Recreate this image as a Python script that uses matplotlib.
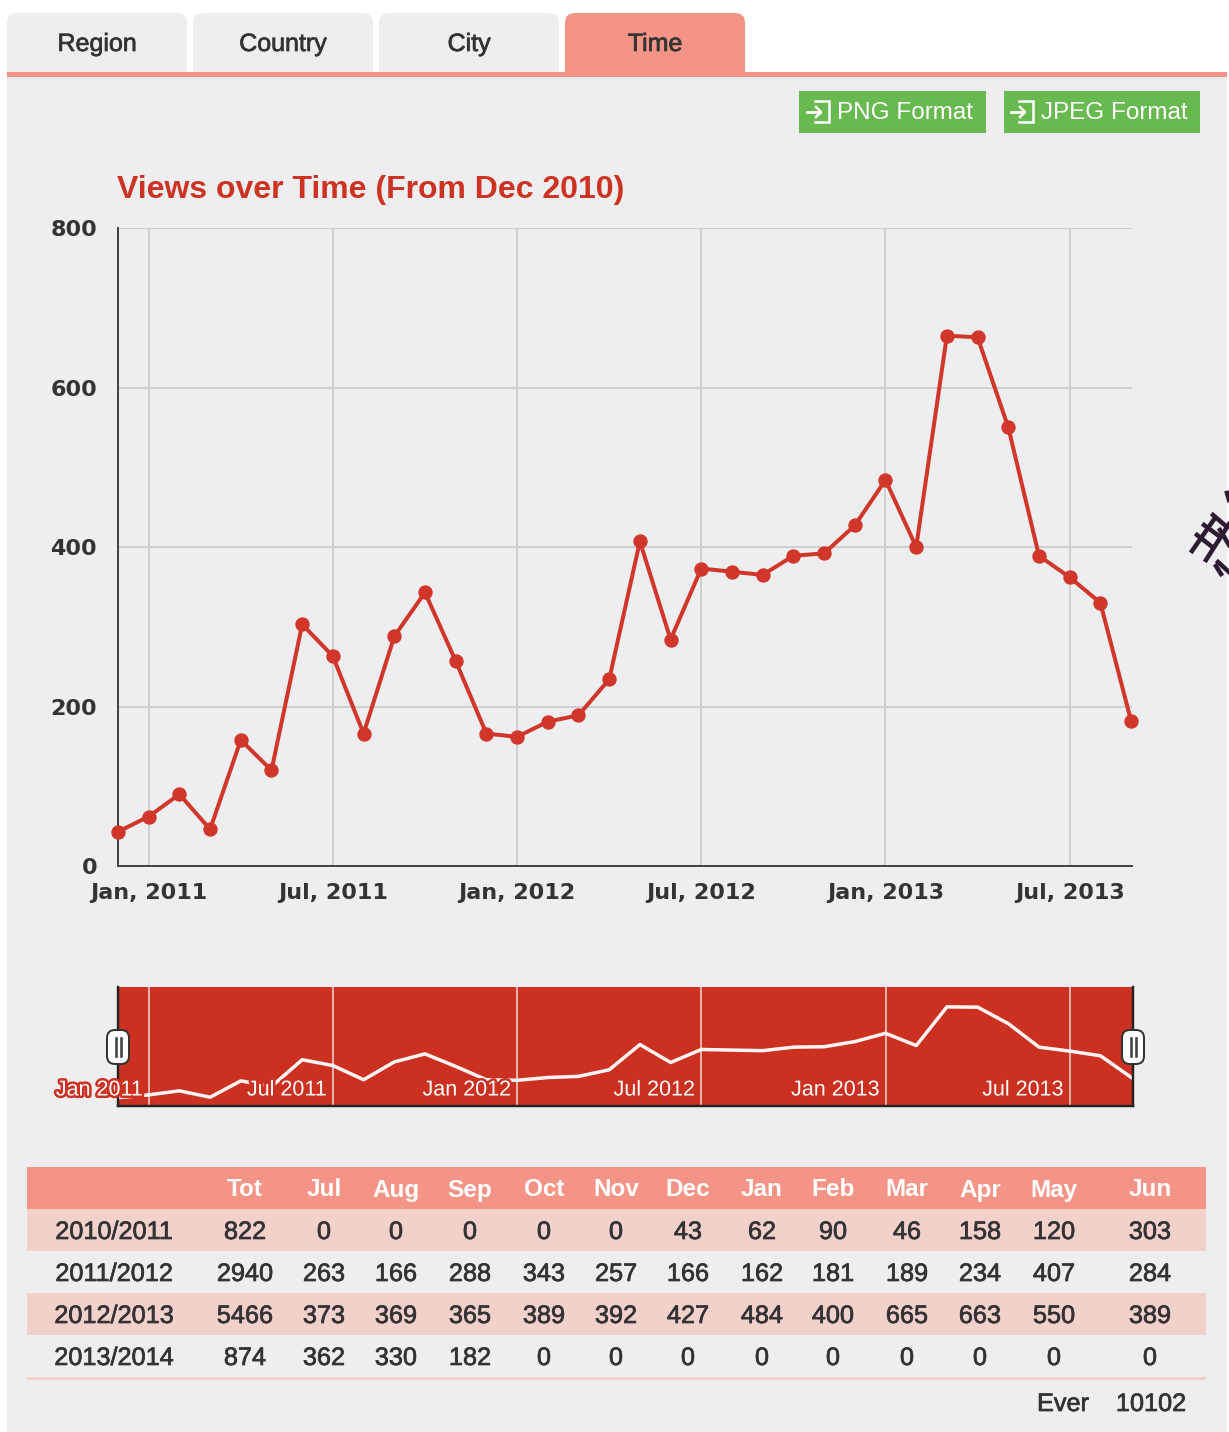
import matplotlib
matplotlib.use('Agg')
import matplotlib.pyplot as plt
import matplotlib.patheffects as pe
from matplotlib.patches import FancyBboxPatch, Rectangle
import numpy as np

W, H = 1229, 1432

views = [43, 62, 90, 46, 158, 120, 303, 263, 166, 288, 343, 257, 166, 162, 181, 189, 234,
         407, 284, 373, 369, 365, 389, 392, 427, 484, 400, 665, 663, 550, 389, 362, 330, 182]
month_idx = np.arange(len(views))  # Dec 2010 is 0, the months are evenly spaced on this axis
tick_idx = [1, 7, 13, 19, 25, 31]
tick_labels = ['Jan, 2011', 'Jul, 2011', 'Jan, 2012', 'Jul, 2012', 'Jan, 2013', 'Jul, 2013']
y_ticks = [0, 200, 400, 600, 800]

tab_names = ['Region', 'Country', 'City', 'Time']
table_head = ['Tot', 'Jul', 'Aug', 'Sep', 'Oct', 'Nov', 'Dec', 'Jan', 'Feb', 'Mar', 'Apr', 'May', 'Jun']
row_names = ['2010/2011', '2011/2012', '2012/2013', '2013/2014']
row_2010 = [822, 0, 0, 0, 0, 0, 43, 62, 90, 46, 158, 120, 303]
row_2011 = [2940, 263, 166, 288, 343, 257, 166, 162, 181, 189, 234, 407, 284]
row_2012 = [5466, 373, 369, 365, 389, 392, 427, 484, 400, 665, 663, 550, 389]
row_2013 = [874, 362, 330, 182, 0, 0, 0, 0, 0, 0, 0, 0, 0]
ever_total = 10102

PAGE = '#EEEEF0'
SALMON = '#F49486'
RED = '#D0372A'
DARKRED = '#CB3020'
TXT = '#333333'
SANS = 'Liberation Sans'

px = 72 / 100  # pixels to points at dpi 100
heavy = [pe.withStroke(linewidth=0.5, foreground=TXT)]


def pixel_axes(zorder):
    a = fig.add_axes([0, 0, 1, 1], zorder=zorder)
    a.set_xlim(0, W)
    a.set_ylim(H, 0)
    a.axis('off')
    return a


def place(x0, y0, x1, y1):
    return [x0 / W, 1 - y1 / H, (x1 - x0) / W, (y1 - y0) / H]


fig = plt.figure(figsize=(W / 100, H / 100), dpi=100, facecolor='white')
bg = pixel_axes(0)
fg = pixel_axes(5)

# page panel and tabs
bg.add_patch(Rectangle((7, 75), 1220, H - 75, fc=PAGE, ec='none'))
for i, name in enumerate(tab_names):
    x0 = 7 + i * 186
    col = SALMON if name == 'Time' else PAGE
    bg.add_patch(FancyBboxPatch((x0 + 10, 23), 160, 70, boxstyle='round,pad=10,rounding_size=10',
                                fc=col, ec='none'))
    bg.add_patch(Rectangle((x0 - 1, 73), 182, 40, fc=PAGE, ec='none'))
    bg.text(x0 + 90, 44, name, ha='center', va='center', family=SANS, fontsize=18, color=TXT, path_effects=heavy)
bg.add_patch(Rectangle((0, 0), 7, H, fc='white', ec='none'))
bg.add_patch(Rectangle((1227, 0), 2, H, fc='white', ec='none'))
bg.add_patch(Rectangle((7, 72), 1220, 5, fc=SALMON, ec='none'))
bg.add_patch(Rectangle((565, 60), 180, 14, fc=SALMON, ec='none'))

# export buttons
for x0, x1, label, tx in [(799, 986, 'PNG Format', 837), (1004, 1200, 'JPEG Format', 1041)]:
    bg.add_patch(Rectangle((x0, 91), x1 - x0, 42, fc='#67B950', ec='none'))
    bg.text(tx, 113, label, ha='left', va='center', family=SANS, fontsize=17.5, color='white')
    ix = tx - 30
    bg.plot([ix + 8, ix + 22, ix + 22, ix + 8], [101, 101, 122, 122], color='white', lw=1.8, solid_joinstyle='miter')
    bg.plot([ix, ix + 13], [112, 112], color='white', lw=2)
    bg.plot([ix + 9, ix + 14, ix + 9], [107, 112, 117], color='white', lw=1.8)

bg.text(117, 190, 'Views over Time (From Dec 2010)', ha='left', va='center', family=SANS,
        fontweight='bold', fontsize=23, color='#CC3322')

# main chart
ax = fig.add_axes(place(118, 228, 1132, 866), zorder=1)
ax.patch.set_visible(False)
ax.plot(month_idx, views, color=RED, lw=4 * px, marker='o', ms=13 * px, mec=RED, clip_on=False, zorder=5)
ax.set_xlim(0, 33.03)
ax.set_ylim(0, 800)
ax.set_yticks(y_ticks)
ax.set_xticks(tick_idx)
ax.set_xticklabels(tick_labels)
ax.grid(True, color='#CCCCCC', lw=1.8 * px)
ax.set_axisbelow(True)
for s in ['top', 'right']:
    ax.spines[s].set_visible(False)
for s in ['left', 'bottom']:
    ax.spines[s].set_color('#444444')
    ax.spines[s].set_linewidth(2 * px)
ax.tick_params(length=0, labelcolor=TXT, labelsize=16)
ax.tick_params(axis='x', pad=12)
ax.tick_params(axis='y', pad=15)
for lab in ax.get_xticklabels() + ax.get_yticklabels():
    lab.set_fontweight('bold')

# overview strip
ov = fig.add_axes(place(118, 987, 1133, 1106), zorder=1)
ov.set_facecolor(DARKRED)
ov.plot(month_idx, views, color='white', lw=3.5 * px, alpha=0.95)
ov.set_xlim(0, 33.06)
ov.set_ylim(-14, 801)
ov.set_xticks(tick_idx)
ov.set_yticks([])
ov.set_xticklabels([])
ov.grid(True, axis='x', color='#E8E0DE', lw=1.5 * px)
ov.tick_params(length=0)
ov.spines['top'].set_visible(False)
for s in ['left', 'right', 'bottom']:
    ov.spines[s].set_color('#222222')
    ov.spines[s].set_linewidth(2.4 * px)
for d, lab in zip(tick_idx, tick_labels):
    ov.annotate(lab.replace(',', ''), (d, 0), xycoords=('data', 'axes fraction'), xytext=(-6 * px, 16 * px),
                textcoords='offset points', ha='right', va='center', family=SANS, fontsize=15.5, color='white',
                annotation_clip=False, zorder=6,
                path_effects=[pe.withStroke(linewidth=5 * px, foreground=DARKRED)])

# slider handles
for hx in [118, 1133]:
    fg.add_patch(FancyBboxPatch((hx - 7, 1034), 14, 26, boxstyle='round,pad=4,rounding_size=8',
                                fc='white', ec='#333333', lw=2 * px))
    fg.plot([hx - 2.5, hx - 2.5], [1038, 1056], color='#444444', lw=2.6 * px)
    fg.plot([hx + 2.5, hx + 2.5], [1038, 1056], color='#444444', lw=2.6 * px)

# stray scribble at the right edge
scribble = [((1192, 551), (1215, 518)), ((1206, 560), (1229, 524)), ((1197, 535), (1211, 546)),
            ((1204, 525), (1219, 536)), ((1213, 515), (1227, 527)), ((1218, 562), (1229, 572)),
            ((1227, 493), (1229, 500)), ((1220, 530), (1229, 545)), ((1216, 566), (1221, 574))]
for p0, p1 in scribble:
    fg.plot([p0[0], p1[0]], [p0[1], p1[1]], color='#2E1A33', lw=4.5 * px, clip_on=True)

# table
col_x = [245, 324, 396, 470, 544, 616, 688, 762, 833, 907, 980, 1054, 1150]
bg.add_patch(Rectangle((27, 1167), 1179, 42, fc=SALMON, ec='none'))
bg.add_patch(Rectangle((27, 1209), 1179, 42, fc='#F3D1CB', ec='none'))
bg.add_patch(Rectangle((27, 1293), 1179, 42, fc='#F3D1CB', ec='none'))
bg.add_patch(Rectangle((27, 1377), 1179, 3, fc='#F3D1CB', ec='none'))
for x, name in zip(col_x, table_head):
    bg.text(x, 1190, name, ha='center', va='center', family=SANS, fontweight='bold', fontsize=17.5, color='white')
rows = [row_2010, row_2011, row_2012, row_2013]
for i, (name, row) in enumerate(zip(row_names, rows)):
    y = 1232 + i * 42
    bg.text(114, y, name, ha='center', va='center', family=SANS, fontsize=18.2, color=TXT, path_effects=heavy)
    for x, v in zip(col_x, row):
        bg.text(x, y, str(v), ha='center', va='center', family=SANS, fontsize=18.2, color=TXT, path_effects=heavy)
bg.text(1063, 1404, 'Ever', ha='center', va='center', family=SANS, fontsize=18.2, color=TXT, path_effects=heavy)
bg.text(1151, 1404, str(ever_total), ha='center', va='center', family=SANS, fontsize=18.2, color=TXT, path_effects=heavy)

fig.savefig('out.png', dpi=100)
